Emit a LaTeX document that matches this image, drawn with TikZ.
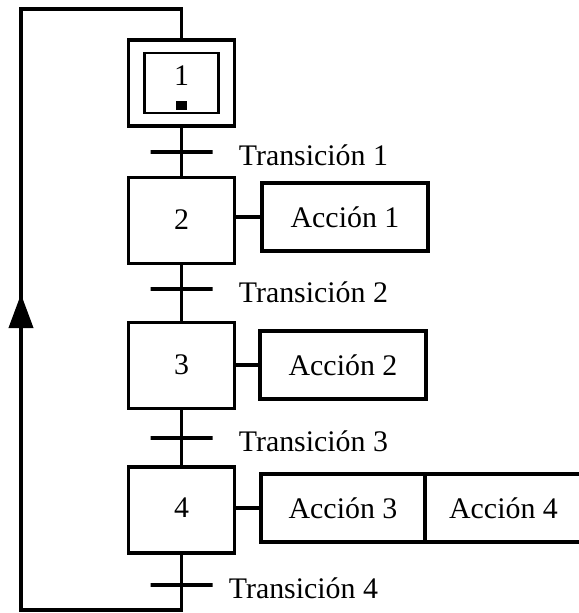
\documentclass[tikz,border=0pt]{standalone}
\usepackage{fontspec}
\setmainfont{Liberation Serif}
\usetikzlibrary{arrows.meta,positioning}

\newcommand{\grafcetfont}{\fontsize{17}{20}\selectfont}

\begin{document}
\begin{tikzpicture}[
  stepbox/.style={rectangle, draw, line width=2.2pt, minimum width=2.12cm, minimum height=1.72cm, inner sep=0pt, outer sep=0pt, font=\grafcetfont},
  action/.style={rectangle, draw, line width=2.2pt, minimum width=3.32cm, minimum height=1.36cm, inner sep=0pt, outer sep=0pt, font=\grafcetfont},
  bar/.style={rectangle, draw, line width=2.2pt, minimum width=1.24cm, minimum height=0pt, inner sep=0pt, outer sep=0pt},
  translabel/.style={inner sep=0pt, font=\grafcetfont, right=0.52cm of #1, yshift=-0.07cm},
  link/.style={line width=2.2pt},
  flow/.style={line width=2.2pt, -{Triangle[length=0.68cm, width=0.48cm]}},
]
  \useasboundingbox (0,0) rectangle (11.58,-12.26);

  % initial step (double box with the active token)
  \node[stepbox] (s1) at (3.63,-1.66) {};
  \node[rectangle, draw, line width=1.6pt, minimum width=1.48cm, minimum height=1.20cm] (s1in) at (s1) {};
  \node[font=\grafcetfont, inner sep=0pt] (n1) at ([yshift=0.14cm]s1.center) {1};
  \node[fill, minimum width=0.22cm, minimum height=0.18cm, inner sep=0pt] (tok) at ([yshift=-0.45cm]s1.center) {};

  % steps
  \node[stepbox] (s2) at (3.63,-4.41) {\raisebox{0.05cm}{2}};
  \node[stepbox] (s3) at (3.63,-7.31) {\raisebox{0.05cm}{3}};
  \node[stepbox] (s4) at (3.63,-10.20) {\raisebox{0.1cm}{4}};

  % transitions
  \node[bar] (t1) at (3.63,-3.04) {};
  \node[bar] (t2) at (3.63,-5.78) {};
  \node[bar] (t3) at (3.63,-8.76) {};
  \node[bar] (t4) at (3.63,-11.70) {};
  \node[translabel=t1] (l1) {Transición 1};
  \node[translabel=t2] (l2) {Transición 2};
  \node[translabel=t3] (l3) {Transición 3};
  \node[translabel=t4, xshift=-0.2cm] (l4) {Transición 4};

  % actions
  \node[action] (a1) at (6.90,-4.34) {Acción 1};
  \node[action] (a2) at (6.86,-7.30) {Acción 2};
  \node[action, minimum width=3.28cm] (a3) at (6.86,-10.16) {Acción 3};
  \node[action, minimum width=3.14cm, right=0pt of a3] (a4) {Acción 4};

  % step chain
  \draw[link] (s1) -- (t1) -- (s2) -- (t2) -- (s3) -- (t3) -- (s4);
  \draw[link] (a1.west) -- (a1.west -| s2.east);
  \draw[link] (a2.west) -- (a2.west -| s3.east);
  \draw[link] (a3.west) -- (a3.west -| s4.east);

  % return loop
  \coordinate (loopbot) at (3.63,-12.20);
  \coordinate (looptop) at (0.42,-0.18);
  \coordinate (arrbase) at (0.42,-6.60);
  \coordinate (arrtip) at (0.42,-5.88);
  \draw[link] (s4) -- (loopbot) -| (looptop) -| (s1);
  \draw[flow] (arrbase) -- (arrtip);
\end{tikzpicture}
\end{document}
